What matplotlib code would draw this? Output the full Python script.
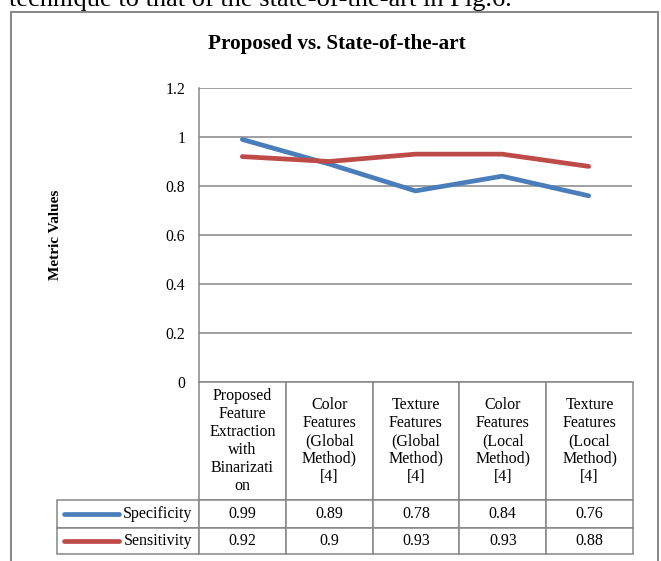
import matplotlib
matplotlib.use("Agg")
from matplotlib import pyplot as plt
from matplotlib.lines import Line2D
from matplotlib.patches import Rectangle

plt.rcParams['font.family'] = ['Liberation Serif', 'DejaVu Serif']

# data
categories = ["Proposed\nFeature\nExtraction\nwith\nBinarizati\non",
              "Color\nFeatures\n(Global\nMethod)\n[4]",
              "Texture\nFeatures\n(Global\nMethod)\n[4]",
              "Color\nFeatures\n(Local\nMethod)\n[4]",
              "Texture\nFeatures\n(Local\nMethod)\n[4]"]
series_names = ["Specificity", "Sensitivity"]
specificity = [0.99, 0.89, 0.78, 0.84, 0.76]
sensitivity = [0.92, 0.9, 0.93, 0.93, 0.88]
y_ticks = [0, 0.2, 0.4, 0.6, 0.8, 1.0, 1.2]
y_tick_labels = ["0", "0.2", "0.4", "0.6", "0.8", "1", "1.2"]

colors = ["#4A7EBB", "#BE4B48"]
grey = "#868686"

W, H = 661, 561
fig = plt.figure(figsize=(W / 100, H / 100), dpi=100)

# pixel layout of the plot area
left, right, top, bottom = 199, 632, 88, 382
ax = fig.add_axes([left / W, (H - bottom) / H, (right - left) / W, (bottom - top) / H])

x = list(range(len(categories)))
for vals, c in zip([specificity, sensitivity], colors):
    ax.plot(x, vals, color=c, lw=3.4, solid_capstyle='round', solid_joinstyle='round', zorder=3)

ax.set_xlim(-0.5, len(categories) - 0.5)
ax.set_ylim(0, 1.2)
ax.set_yticks(y_ticks)
ax.set_yticklabels(y_tick_labels)
ax.set_xticks([])
ax.tick_params(axis='y', length=0, pad=10, labelsize=11.3)
ax.grid(axis='y', color=grey, lw=1.1)
ax.set_axisbelow(True)
for s in ['top', 'right', 'bottom']:
    ax.spines[s].set_visible(False)
ax.spines['left'].set_color(grey)
ax.spines['left'].set_linewidth(1.1)

ax.set_ylabel("Metric Values", fontsize=11, fontweight='bold')
ax.yaxis.set_label_coords((62 - left) / (right - left), 0.5)

# data table under the plot
cell_text = [[f"{v:g}" for v in specificity], [f"{v:g}" for v in sensitivity]]
tab_bottom = 554
tab = ax.table(cellText=cell_text, rowLabels=series_names, colLabels=categories,
               cellLoc='center', rowLoc='right',
               bbox=[0, -(tab_bottom - bottom) / (bottom - top), (633 - left) / (right - left),
                     (tab_bottom - bottom) / (bottom - top)])
tab.auto_set_font_size(False)
tab.set_fontsize(11.5)
tab._autoColumns = []  # keep the fixed width of the label column
row_h = {0: 118, 1: 28, 2: 26}
for (r, c), cell in tab.get_celld().items():
    cell.set_width(142 if c == -1 else 86.8)
    cell.set_height(row_h[r])
    cell.set_edgecolor(grey)
    cell.set_linewidth(1.1)
    if c == -1:
        cell.PAD = 0.05
    if r == 0:
        cell.get_text().set_linespacing(1.15)

# outer chart frame
fig.patches.append(Rectangle((11 / W, -0.1), (658 - 11) / W, (H - 12) / H + 0.1,
                             transform=fig.transFigure, fill=False, ec=grey, lw=1.4))

fig.text(337 / W, (H - 44) / H, "Proposed vs. State-of-the-art", ha='center', va='center',
         fontsize=15.2, fontweight='bold')

# clipped text of the page above the chart
fig.text(9 / W, (H - 6) / H, "technique to that of the state-of-the-art in Fig.6.",
         ha='left', va='baseline', fontsize=19)

# legend keys inside the row label cells
# (table settles its cell positions only on the second draw)
fig.canvas.draw()
fig.canvas.draw()
for i, c in enumerate(colors):
    cell = tab[(i + 1, -1)]
    x0, w = cell.get_x(), cell.get_width()
    ym = cell.get_y() + cell.get_height() / 2
    fig.add_artist(Line2D([x0 + 0.05 * w, x0 + 0.44 * w], [ym, ym], color=c, lw=3.4,
                          solid_capstyle='round', transform=ax.transAxes, zorder=5))

fig.savefig("out.png", dpi=100)
